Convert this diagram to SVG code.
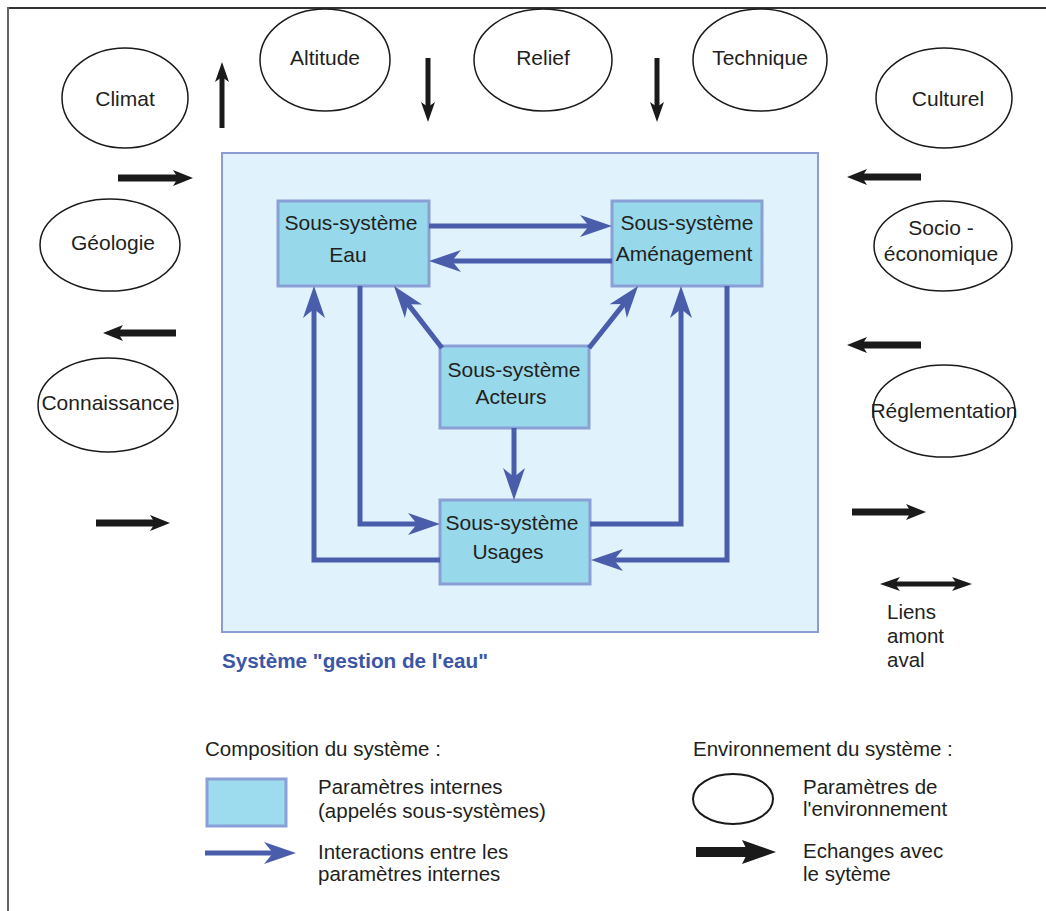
<svg xmlns="http://www.w3.org/2000/svg" width="1046" height="911" viewBox="0 0 1046 911">
<style>
  text { font-family: "Liberation Sans", Arial, sans-serif; fill: #231f20; }
  .lbl { font-size: 21px; text-anchor: middle; }
  .leg { font-size: 20.5px; }
  .env { fill: #ffffff; stroke: #1a1a1a; stroke-width: 1.5; }
  .sub { fill: #97d8eb; stroke: #8a9fd6; stroke-width: 3; }
  .blue { fill: none; stroke: #4a5dab; stroke-width: 5; marker-end: url(#bh); }
  .blk { fill: none; stroke: #1a1a1a; stroke-width: 7; }
  .title { font-size: 20px; font-weight: bold; fill: #3b56a6; }
</style>
<defs>
  <marker id="bh" markerUnits="userSpaceOnUse" viewBox="0 0 32 22" refX="22" refY="11" markerWidth="32" markerHeight="22" orient="auto">
    <path d="M0,0 L32,11 L0,22 L9,11 Z" fill="#4a5dab"/>
  </marker>
  <marker id="kh" markerUnits="userSpaceOnUse" viewBox="0 0 20 16" refX="10" refY="8" markerWidth="20" markerHeight="16" orient="auto-start-reverse">
    <path d="M0,0 L20,8 L0,16 L5,8 Z" fill="#1a1a1a"/>
  </marker>
  <marker id="khs" markerUnits="userSpaceOnUse" viewBox="0 0 20 14" refX="10" refY="7" markerWidth="20" markerHeight="14" orient="auto-start-reverse">
    <path d="M0,0 L20,7 L0,14 L5,7 Z" fill="#1a1a1a"/>
  </marker>
  <marker id="khl" markerUnits="userSpaceOnUse" viewBox="0 0 34 24" refX="18" refY="12" markerWidth="34" markerHeight="24" orient="auto">
    <path d="M0,0 L34,12 L0,24 L6,12 Z" fill="#1a1a1a"/>
  </marker>
</defs>
<rect x="0" y="0" width="1046" height="911" fill="#ffffff"/>
<g id="frame">
  <line x1="8" y1="8" x2="1046" y2="8" stroke="#333333" stroke-width="2"/>
  <line x1="8" y1="7" x2="8" y2="911" stroke="#666666" stroke-width="2"/>
</g>

<g id="systeme">
  <rect x="222" y="153" width="596" height="479" fill="#e0f2fc" stroke="#8b9bd3" stroke-width="2"/>
  <text class="title" x="222" y="668" textLength="266" lengthAdjust="spacingAndGlyphs">Système "gestion de l'eau"</text>
</g>

<g id="climat"><ellipse class="env" cx="125" cy="98" rx="63" ry="50"/><text class="lbl" x="125" y="106">Climat</text></g>
<g id="altitude"><ellipse class="env" cx="325" cy="60" rx="65" ry="51"/><text class="lbl" x="325" y="65">Altitude</text></g>
<g id="relief"><ellipse class="env" cx="543" cy="60" rx="69" ry="51"/><text class="lbl" x="543" y="65">Relief</text></g>
<g id="technique"><ellipse class="env" cx="760" cy="60" rx="67" ry="51"/><text class="lbl" x="760" y="65">Technique</text></g>
<g id="culturel"><ellipse class="env" cx="944" cy="98" rx="68" ry="50"/><text class="lbl" x="948" y="106">Culturel</text></g>
<g id="geologie"><ellipse class="env" cx="110" cy="245" rx="70" ry="46"/><text class="lbl" x="113" y="250">Géologie</text></g>
<g id="connaissance"><ellipse class="env" cx="108" cy="405" rx="70" ry="47"/><text class="lbl" x="108" y="410">Connaissance</text></g>
<g id="socio"><ellipse class="env" cx="943" cy="246" rx="69" ry="45"/><text class="lbl" x="941" y="235">Socio -</text><text class="lbl" x="941" y="261">économique</text></g>
<g id="reglementation"><ellipse class="env" cx="944" cy="411" rx="71" ry="46"/><text class="lbl" x="944" y="418">Réglementation</text></g>

<g id="eau"><rect class="sub" x="278" y="201" width="151" height="85"/><text class="lbl" x="351" y="230">Sous-système</text><text class="lbl" x="348" y="262">Eau</text></g>
<g id="amenagement"><rect class="sub" x="612" y="201" width="150" height="85"/><text class="lbl" x="687" y="230">Sous-système</text><text class="lbl" x="684" y="261">Aménagement</text></g>
<g id="acteurs"><rect class="sub" x="440" y="346" width="149" height="82"/><text class="lbl" x="514" y="377">Sous-système</text><text class="lbl" x="511" y="404">Acteurs</text></g>
<g id="usages"><rect class="sub" x="440" y="500" width="150" height="84"/><text class="lbl" x="512" y="530">Sous-système</text><text class="lbl" x="508" y="559">Usages</text></g>

<g id="connectors">
  <path class="blue" d="M429,226 H602"/>
  <path class="blue" d="M612,261 H439"/>
  <path class="blue" d="M442,348 L400.1,293.9"/>
  <path class="blue" d="M589,348 L631.9,293.9"/>
  <path class="blue" d="M514,428 V490"/>
  <path class="blue" d="M360,286 V524 H430"/>
  <path class="blue" d="M590,524 H681 V296"/>
  <path class="blue" d="M440,560 H314 V296"/>
  <path class="blue" d="M727,286 V560 H601"/>

  <path class="blk" d="M118,178 H183" marker-end="url(#kh)"/>
  <path class="blk" d="M176,333 H113" marker-end="url(#kh)"/>
  <path class="blk" d="M96,523 H160" marker-end="url(#kh)"/>
  <path class="blk" d="M921,177 H857" marker-end="url(#kh)"/>
  <path class="blk" d="M921,345 H857" marker-end="url(#kh)"/>
  <path class="blk" d="M852,512 H916" marker-end="url(#kh)"/>
  <path class="blk" d="M222,128 V72" style="stroke-width:5" marker-end="url(#khs)"/>
  <path class="blk" d="M428,58 V112" style="stroke-width:5" marker-end="url(#khs)"/>
  <path class="blk" d="M657,58 V112" style="stroke-width:5" marker-end="url(#khs)"/>
  <path class="blk" d="M890,584 H962" style="stroke-width:5" marker-start="url(#khs)" marker-end="url(#khs)"/>
</g>
<g id="liens">
  <text class="leg" x="887" y="619">Liens</text>
  <text class="leg" x="887" y="643">amont</text>
  <text class="leg" x="887" y="667">aval</text>
</g>

<g id="legend">
  <text class="leg" x="205" y="756">Composition du système :</text>
  <rect class="sub" x="207" y="779" width="79" height="47" style="fill:#9ddcee"/>
  <text class="leg" x="318" y="794">Paramètres internes</text>
  <text class="leg" x="318" y="818">(appelés sous-systèmes)</text>
  <path class="blue" d="M205,853 H286"/>
  <text class="leg" x="318" y="859">Interactions entre les</text>
  <text class="leg" x="318" y="881">paramètres internes</text>

  <text class="leg" x="693" y="756">Environnement du système :</text>
  <ellipse class="env" cx="733" cy="799" rx="40" ry="25" style="stroke-width:2"/>
  <text class="leg" x="803" y="794">Paramètres de</text>
  <text class="leg" x="803" y="816">l'environnement</text>
  <path d="M696,852 H760" stroke="#1a1a1a" stroke-width="10" marker-end="url(#khl)"/>
  <text class="leg" x="803" y="858">Echanges avec</text>
  <text class="leg" x="803" y="881">le sytème</text>
</g>
</svg>
